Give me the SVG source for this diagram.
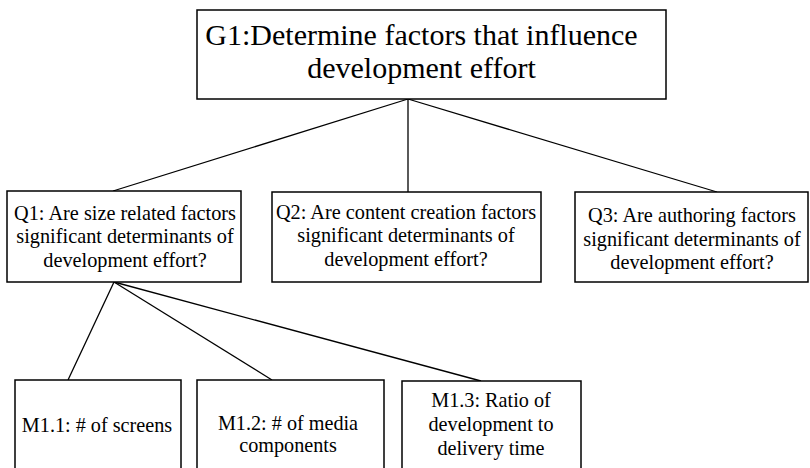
<svg xmlns="http://www.w3.org/2000/svg" width="810" height="468" viewBox="0 0 810 468">
<style>
.box{fill:#fff;stroke:#000;stroke-width:1.5}
.con line{stroke:#000;stroke-width:1.3}
.t{font-family:'Liberation Serif','DejaVu Serif','Times New Roman',Times,serif;fill:#000;text-anchor:middle}
.g{font-size:30px}
.q{font-size:20.3px}
.m{font-size:20.2px}
</style>
<rect width="810" height="468" fill="#fff"/>
<g id="connectors" class="con">
<line x1="408" y1="99" x2="113" y2="191"/>
<line x1="408" y1="99" x2="408" y2="192"/>
<line x1="408" y1="99" x2="717" y2="192"/>
<line x1="114" y1="282" x2="68" y2="380"/>
<line x1="114" y1="282" x2="272" y2="380"/>
<line x1="114" y1="282" x2="481" y2="381"/>
</g>
<g id="G1" class="t">
<rect class="box" x="197" y="10" width="469" height="89"/>
<text class="g" x="421.5" y="44.5">G1:Determine factors that influence</text>
<text class="g" x="421.5" y="78">development effort</text>
</g>
<g id="Q1" class="t">
<rect class="box" x="7" y="191" width="234" height="91"/>
<text class="q" x="125" y="220">Q1: Are size related factors</text>
<text class="q" x="125" y="243">significant determinants of</text>
<text class="q" x="125" y="267">development effort?</text>
</g>
<g id="Q2" class="t">
<rect class="box" x="272" y="192" width="269" height="90"/>
<text class="q" x="406" y="219">Q2: Are content creation factors</text>
<text class="q" x="406" y="242">significant determinants of</text>
<text class="q" x="406" y="266">development effort?</text>
</g>
<g id="Q3" class="t">
<rect class="box" x="575" y="192" width="233" height="90"/>
<text class="q" x="692" y="222">Q3: Are authoring factors</text>
<text class="q" x="692" y="246">significant determinants of</text>
<text class="q" x="692" y="269">development effort?</text>
</g>
<g id="M1.1" class="t">
<rect class="box" x="15" y="380" width="166" height="100"/>
<text class="m" x="97" y="432">M1.1: # of screens</text>
</g>
<g id="M1.2" class="t">
<rect class="box" x="197" y="380" width="187" height="100"/>
<text class="m" x="288" y="430">M1.2: # of media</text>
<text class="m" x="288" y="452">components</text>
</g>
<g id="M1.3" class="t">
<rect class="box" x="402" y="381" width="179" height="100"/>
<text class="m" x="491" y="407">M1.3: Ratio of</text>
<text class="m" x="491" y="431">development to</text>
<text class="m" x="491" y="455">delivery time</text>
</g>
</svg>
